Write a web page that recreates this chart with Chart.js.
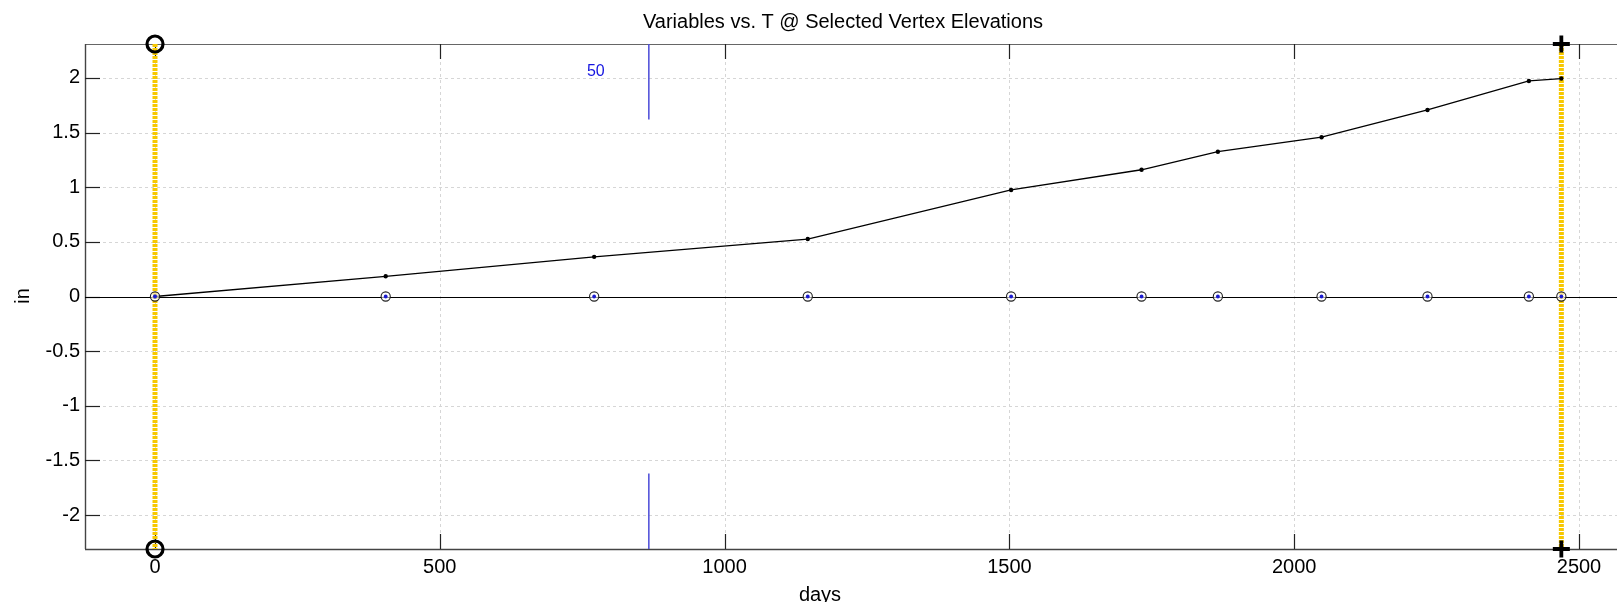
<!DOCTYPE html>
<html>
<head>
<meta charset="utf-8">
<script src="https://cdn.jsdelivr.net/npm/chart.js@4/dist/chart.umd.min.js"></script>
<style>
  html,body{margin:0;padding:0;background:#fff;}
  #wrap{width:1617px;height:602px;position:relative;}
</style>
</head>
<body>
<div id="wrap"><canvas id="c" width="1617" height="602"></canvas></div>
<script>
// ---- data ----
const days = [0, 405, 771, 1146, 1503, 1732, 1866, 2048, 2234, 2412, 2469];
const values = [0, 0.185, 0.363, 0.526, 0.975, 1.16, 1.325, 1.458, 1.707, 1.973, 1.995];
const xTicks = [0, 500, 1000, 1500, 2000, 2500];
const yTicks = [-2, -1.5, -1, -0.5, 0, 0.5, 1, 1.5, 2];
const xRange = [-123, 2566];
const yRange = [-2.311, 2.311];
const startDay = 0;
const endDay = 2469;
const markerDay = 867;
const markerLabel = "50";
const markerLabelPos = [774, 2.06];
const markerGap = [-1.62, 1.62];
const titleText = "Variables vs. T @ Selected Vertex Elevations";
const xLabel = "days";
const yLabel = "in";

const FONT = "'Liberation Sans', Arial, sans-serif";

const mainPts = days.map((d, i) => ({x: d, y: values[i]}));
const zeroPts = days.map(d => ({x: d, y: 0}));

const decor = {
  id: 'decor',
  beforeDatasetsDraw(chart) {
    const {ctx, chartArea: a, scales: {x, y}} = chart;
    const R = chart.width;
    ctx.save();
    // dashed grid
    ctx.strokeStyle = '#d6d6d6';
    ctx.lineWidth = 1;
    ctx.setLineDash([3, 3]);
    xTicks.forEach(v => {
      const px = Math.round(x.getPixelForValue(v)) + 0.5;
      ctx.beginPath(); ctx.moveTo(px, a.top); ctx.lineTo(px, a.bottom); ctx.stroke();
    });
    yTicks.forEach(v => {
      const py = Math.round(y.getPixelForValue(v)) + 0.5;
      ctx.beginPath(); ctx.moveTo(a.left, py); ctx.lineTo(R, py); ctx.stroke();
    });
    ctx.setLineDash([]);
    // borders
    ctx.strokeStyle = '#666';
    ctx.lineWidth = 1.2;
    ctx.beginPath();
    ctx.moveTo(a.left, a.top + 0.5); ctx.lineTo(R, a.top + 0.5);
    ctx.stroke();
    ctx.strokeStyle = '#444';
    ctx.lineWidth = 1.4;
    ctx.beginPath();
    ctx.moveTo(a.left + 0.5, a.top); ctx.lineTo(a.left + 0.5, a.bottom);
    ctx.moveTo(a.left, a.bottom + 0.5); ctx.lineTo(R, a.bottom + 0.5);
    ctx.stroke();
    // inside ticks
    ctx.strokeStyle = '#222';
    ctx.lineWidth = 1.2;
    const tl = 15;
    xTicks.forEach(v => {
      const px = Math.round(x.getPixelForValue(v)) + 0.5;
      ctx.beginPath();
      ctx.moveTo(px, a.top); ctx.lineTo(px, a.top + tl);
      ctx.moveTo(px, a.bottom); ctx.lineTo(px, a.bottom - tl);
      ctx.stroke();
    });
    yTicks.forEach(v => {
      const py = Math.round(y.getPixelForValue(v)) + 0.5;
      ctx.beginPath();
      ctx.moveTo(a.left, py); ctx.lineTo(a.left + tl, py);
      ctx.stroke();
    });
    // zero line
    ctx.strokeStyle = '#000';
    ctx.lineWidth = 1.2;
    const zy = Math.round(y.getPixelForValue(0)) + 0.5;
    ctx.beginPath();
    ctx.moveTo(a.left, zy); ctx.lineTo(R, zy);
    ctx.stroke();
    // tick labels
    ctx.fillStyle = '#000';
    ctx.font = `20px ${FONT}`;
    ctx.textBaseline = 'middle';
    ctx.textAlign = 'center';
    xTicks.forEach(v => ctx.fillText(String(v), x.getPixelForValue(v), a.bottom + 18));
    ctx.textAlign = 'right';
    yTicks.forEach(v => ctx.fillText(String(v), a.left - 5, y.getPixelForValue(v)));
    ctx.restore();
  },
  afterDraw(chart) {
    const {ctx, chartArea: a, scales: {x, y}} = chart;
    ctx.save();
    ctx.fillStyle = '#000';
    ctx.font = `20px ${FONT}`;
    ctx.textAlign = 'center';
    ctx.textBaseline = 'middle';
    ctx.fillText(titleText, 843, 22);
    ctx.fillText(xLabel, 820, 595);
    ctx.save();
    ctx.translate(23, 296);
    ctx.rotate(-Math.PI / 2);
    ctx.fillText(yLabel, 0, 0);
    ctx.restore();
    // marker label
    ctx.fillStyle = '#1515e0';
    ctx.font = `16px ${FONT}`;
    ctx.fillText(markerLabel, x.getPixelForValue(markerLabelPos[0]), y.getPixelForValue(markerLabelPos[1]));
    ctx.restore();
  }
};

const chart = new Chart(document.getElementById('c'), {
  type: 'scatter',
  data: {
    datasets: [
      { // circle markers at start
        data: [{x: startDay, y: yRange[1]}, {x: startDay, y: yRange[0]}],
        showLine: false, pointStyle: 'circle', pointRadius: 8, borderWidth: 3.2,
        borderColor: '#000', backgroundColor: 'rgba(0,0,0,0)', clip: false
      },
      { // plus markers at end
        data: [{x: endDay, y: yRange[1]}, {x: endDay, y: yRange[0]}],
        showLine: false, pointStyle: 'cross', pointRadius: 8.5, borderWidth: 3.8,
        borderColor: '#000', backgroundColor: '#000', clip: false
      },
      { // inner blue dots at zero
        data: zeroPts, showLine: false, pointStyle: 'circle', pointRadius: 1.9,
        borderWidth: 0, backgroundColor: '#1a1ad0', borderColor: '#1a1ad0'
      },
      { // outer circles at zero
        data: zeroPts, showLine: false, pointStyle: 'circle', pointRadius: 4.6,
        borderWidth: 1.1, borderColor: '#222', backgroundColor: 'rgba(255,255,255,0.6)'
      },
      { // main series
        data: mainPts, showLine: true, borderColor: '#000', borderWidth: 1.3,
        pointRadius: 2.2, pointBackgroundColor: '#000', pointBorderWidth: 0,
        tension: 0, fill: false
      },
      { // yellow start line
        data: [{x: startDay, y: yRange[1]}, {x: startDay, y: yRange[0]}],
        showLine: true, borderColor: '#f7c800', borderWidth: 5, borderDash: [3, 1],
        pointRadius: 0, fill: false
      },
      { // yellow end line
        data: [{x: endDay, y: yRange[1]}, {x: endDay, y: yRange[0]}],
        showLine: true, borderColor: '#f7c800', borderWidth: 5, borderDash: [3, 1],
        pointRadius: 0, fill: false
      },
      { // blue marker top
        data: [{x: markerDay, y: yRange[1]}, {x: markerDay, y: markerGap[1]}],
        showLine: true, borderColor: '#4a4ad8', borderWidth: 1.5, pointRadius: 0, fill: false
      },
      { // blue marker bottom
        data: [{x: markerDay, y: markerGap[0]}, {x: markerDay, y: yRange[0]}],
        showLine: true, borderColor: '#4a4ad8', borderWidth: 1.5, pointRadius: 0, fill: false
      }
    ]
  },
  options: {
    responsive: false,
    animation: false,
    devicePixelRatio: 1,
    layout: { padding: { top: 44, right: 0, left: 0, bottom: 0 } },
    plugins: { legend: { display: false }, title: { display: false }, tooltip: { enabled: false } },
    scales: {
      x: {
        type: 'linear', min: xRange[0], max: xRange[1],
        afterFit(s) { s.height = 53; },
        afterBuildTicks(s) { s.ticks = xTicks.map(v => ({value: v})); },
        ticks: { display: false },
        grid: { display: false, drawTicks: false },
        border: { display: false }
      },
      y: {
        type: 'linear', min: yRange[0], max: yRange[1],
        afterFit(s) { s.width = 85; },
        afterBuildTicks(s) { s.ticks = yTicks.map(v => ({value: v})); },
        ticks: { display: false },
        grid: { display: false, drawTicks: false },
        border: { display: false }
      }
    }
  },
  plugins: [decor]
});

// keep the x scale at the reference's pixels-per-day: 0 at x=155, 2500 at x=1579
(function fitX() {
  const a = chart.chartArea;
  const k = (1579 - 155) / 2500;
  const min = -(155 - a.left) / k;
  const max = min + (a.right - a.left) / k;
  chart.options.scales.x.min = min;
  chart.options.scales.x.max = max;
  chart.update('none');
})();
</script>
</body>
</html>
